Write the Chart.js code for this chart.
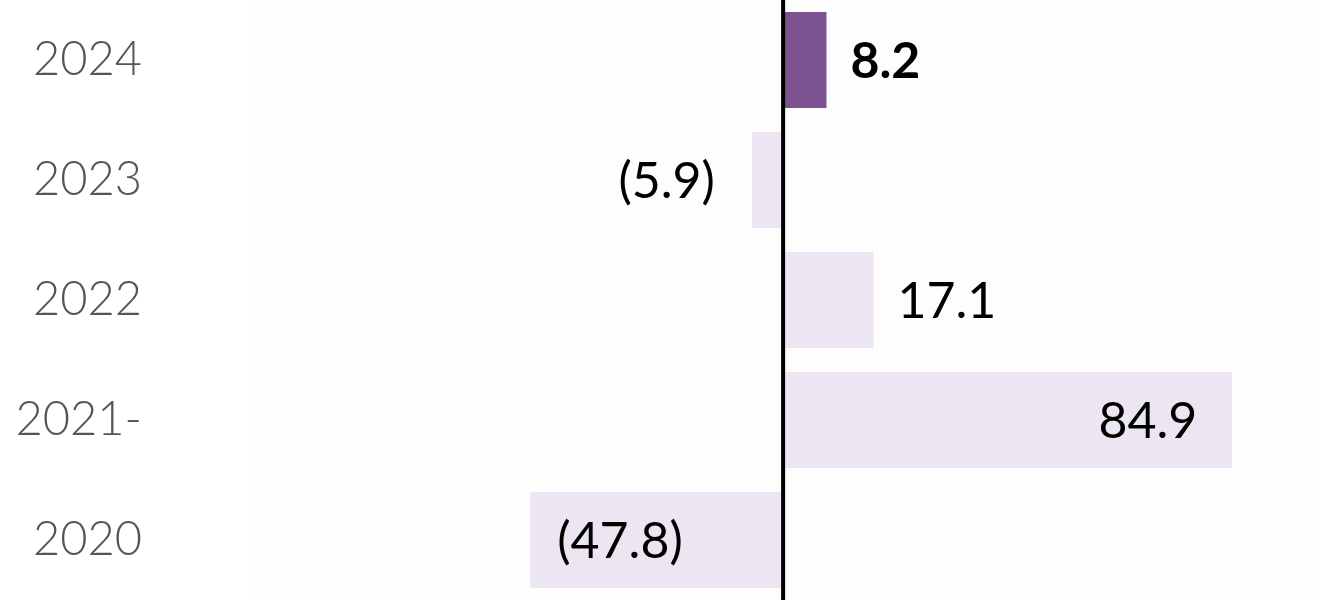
<!DOCTYPE html>
<html lang="en">
<head>
    <meta charset="UTF-8">
    <title>Chart</title>
    <script src="https://cdn.jsdelivr.net/npm/chart.js@4.4.1/dist/chart.umd.min.js"></script>
    <style>
        html, body { margin: 0; padding: 0; background: #fff; }
        #wrap { width: 1320px; height: 600px; }
    </style>
</head>
<body>
    <div id="wrap"><canvas id="myChart"></canvas></div>
    <script>
        const years = ['2024', '2023', '2022', '2021-', '2020'];
        const values = [8.2, -5.9, 17.1, 84.9, -47.8];
        const highlight = [true, false, false, false, false];

        function fmt(v) {
            return v < 0 ? '(' + Math.abs(v).toFixed(1) + ')' : v.toFixed(1);
        }

        // faint panel behind the bars
        const panel = {
            id: 'panel',
            beforeDraw(chart) {
                const ctx = chart.ctx;
                ctx.save();
                ctx.fillStyle = '#fdfdfe';
                ctx.fillRect(248, 0, chart.width - 248, chart.height);
                ctx.restore();
            }
        };

        // value labels + the zero line
        const extras = {
            id: 'extras',
            afterDatasetsDraw(chart) {
                const ctx = chart.ctx;
                const x = chart.scales.x;
                const meta = chart.getDatasetMeta(0);
                const zero = x.getPixelForValue(0);
                ctx.save();
                ctx.textBaseline = 'middle';
                meta.data.forEach((bar, i) => {
                    const v = values[i];
                    const len = Math.abs(bar.x - zero);
                    const inside = len > 200;
                    ctx.fillStyle = '#000';
                    ctx.font = highlight[i] ? 'bold 50px Lato' : '50px Lato';
                    let tx, align;
                    if (v >= 0) {
                        if (inside) { tx = bar.x - 35; align = 'right'; }
                        else { tx = bar.x + 24; align = 'left'; }
                    } else {
                        if (inside) { tx = bar.x + 27; align = 'left'; }
                        else { tx = bar.x - 37; align = 'right'; }
                    }
                    ctx.textAlign = align;
                    ctx.fillText(fmt(v), tx, bar.y + 2);
                });
                ctx.strokeStyle = '#000';
                ctx.lineWidth = 4;
                ctx.beginPath();
                ctx.moveTo(zero, 0);
                ctx.lineTo(zero, chart.height);
                ctx.stroke();
                ctx.restore();
            }
        };

        const ctx = document.getElementById('myChart').getContext('2d');
        const myChart = new Chart(ctx, {
            type: 'bar',
            data: {
                labels: years,
                datasets: [{
                    data: values,
                    backgroundColor: highlight.map(h => h ? '#7b518f' : '#ebe6f1'),
                    borderWidth: 0,
                    categoryPercentage: 1,
                    barPercentage: 0.8
                }]
            },
            options: {
                indexAxis: 'y',
                responsive: true,
                maintainAspectRatio: false,
                animation: false,
                layout: { padding: 0 },
                plugins: {
                    legend: { display: false },
                    tooltip: { enabled: false }
                },
                scales: {
                    x: {
                        display: false,
                        min: -117.8,
                        max: 101.5
                    },
                    y: {
                        afterFit(scale) {
                            scale.width = 160;
                            scale.paddingTop = 0;
                            scale.paddingBottom = 0;
                        },
                        grid: { display: false, drawTicks: false },
                        border: { display: false },
                        ticks: {
                            padding: 18,
                            color: '#555',
                            font: { family: 'Lato', size: 47, weight: 300 }
                        }
                    }
                }
            },
            plugins: [panel, extras]
        });
    </script>
</body>
</html>
